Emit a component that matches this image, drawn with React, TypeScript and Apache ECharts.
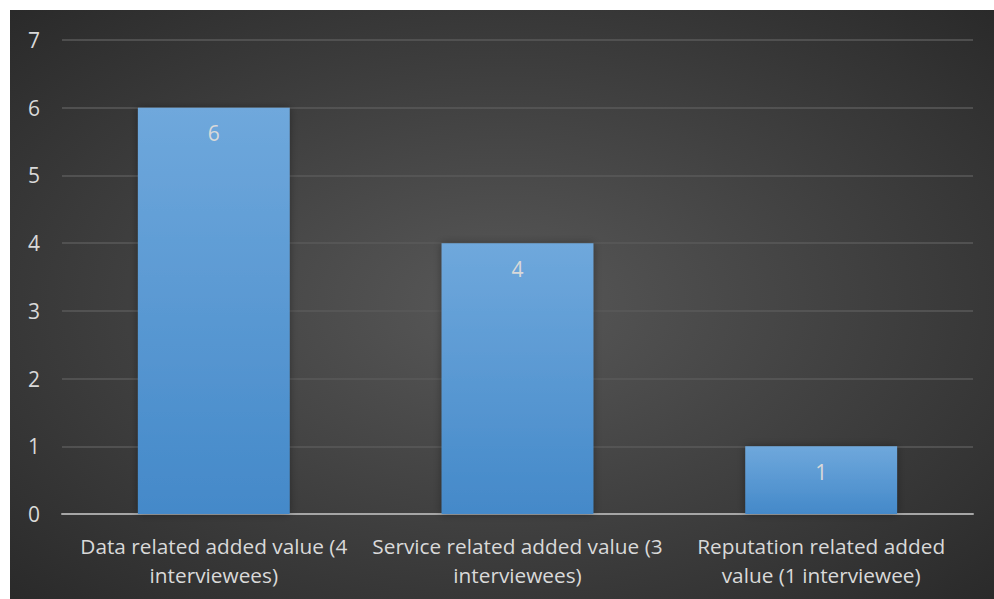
import React, { useEffect, useRef } from "react";
import * as echarts from "echarts";

const categories = [
  "Data related added value (4\ninterviewees)",
  "Service related added value (3\ninterviewees)",
  "Reputation related added\nvalue (1 interviewee)",
];
const values = [6, 4, 1];
const yTicks = { min: 0, max: 7, interval: 1 };

export default function App() {
  const ref = useRef<HTMLDivElement>(null);
  useEffect(() => {
    if (!ref.current) return;
    const chart = echarts.init(ref.current, undefined, { renderer: "svg" });
    const font = "'Open Sans', 'Noto Sans', sans-serif";
    chart.setOption({
      animation: false,
      backgroundColor: {
        type: "radial",
        x: 0.5,
        y: 0.5,
        r: 0.75,
        colorStops: [
          { offset: 0, color: "#585858" },
          { offset: 1, color: "#272727" },
        ],
      },
      grid: { left: 52, right: 21, top: 30, bottom: 85, containLabel: false },
      xAxis: {
        type: "category",
        data: categories,
        axisTick: { show: false },
        axisLine: { lineStyle: { color: "#a6a6a6", width: 2 } },
        axisLabel: {
          color: "#d9d9d9",
          fontFamily: font,
          fontSize: 20.8,
          lineHeight: 29,
          margin: 17,
          interval: 0,
        },
      },
      yAxis: {
        type: "value",
        min: yTicks.min,
        max: yTicks.max,
        interval: yTicks.interval,
        axisLine: { show: false },
        axisTick: { show: false },
        splitLine: { lineStyle: { color: "#5a5a5a", width: 1.5 } },
        axisLabel: {
          color: "#d9d9d9",
          fontFamily: font,
          fontSize: 21,
          margin: 22,
        },
      },
      series: [
        {
          type: "bar",
          data: values,
          barWidth: "50%",
          itemStyle: {
            color: {
              type: "linear",
              x: 0,
              y: 0,
              x2: 0,
              y2: 1,
              colorStops: [
                { offset: 0, color: "#6fa8dc" },
                { offset: 1, color: "#4489c9" },
              ],
            },
            shadowColor: "rgba(0,0,0,0.35)",
            shadowBlur: 8,
          },
          label: {
            show: true,
            position: "insideTop",
            distance: 15,
            color: "#d9d9d9",
            fontFamily: font,
            fontSize: 21,
          },
        },
      ],
    });
    return () => chart.dispose();
  }, []);
  return (
    <div
      ref={ref}
      style={{ position: "absolute", left: 10, top: 10, width: 984, height: 589 }}
    />
  );
}
